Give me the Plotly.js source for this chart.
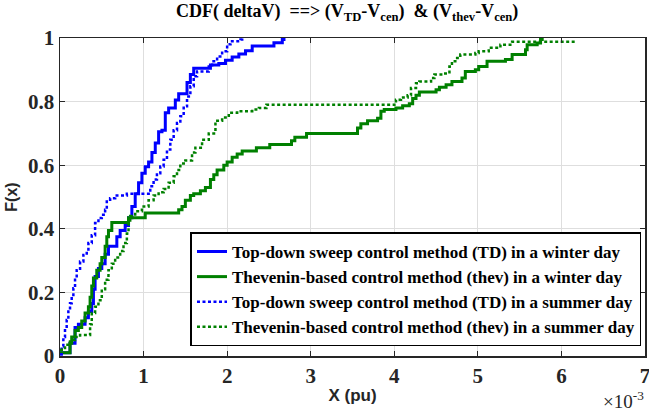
<!DOCTYPE html>
<html>
<head>
<meta charset="utf-8">
<script src="https://cdn.plot.ly/plotly-3.0.1.min.js"></script>
<style>html,body{margin:0;padding:0;background:#fff}#chart{width:649px;height:416px}</style>
</head>
<body>
<div id="chart"></div>
<script>
// X values in units of 1e-3 pu (axis shows x10^-3)
const xTDwinter = [0, 0.12, 0.18, 0.22, 0.30, 0.34, 0.38, 0.40, 0.42, 0.46, 0.50, 0.54, 0.58, 0.68, 0.72, 0.78, 0.82, 0.86, 0.90, 0.94, 0.98, 1.02, 1.06, 1.10, 1.14, 1.18, 1.22, 1.26, 1.30, 1.38, 1.42, 1.52, 1.56, 1.60, 1.80, 1.90, 1.98, 2.06, 2.14, 2.22, 2.30, 2.56, 2.66, 2.68];
const yTDwinter = [0.01, 0.04, 0.09, 0.10, 0.12, 0.14, 0.165, 0.21, 0.25, 0.275, 0.29, 0.32, 0.345, 0.375, 0.395, 0.41, 0.435, 0.47, 0.51, 0.545, 0.575, 0.595, 0.61, 0.64, 0.67, 0.705, 0.71, 0.765, 0.78, 0.805, 0.825, 0.86, 0.885, 0.905, 0.915, 0.92, 0.93, 0.94, 0.95, 0.96, 0.975, 0.985, 0.995, 1.0];

const xThevWinter = [0, 0.12, 0.14, 0.18, 0.22, 0.26, 0.30, 0.34, 0.36, 0.38, 0.40, 0.44, 0.48, 0.50, 0.54, 0.56, 0.58, 0.62, 0.82, 1.02, 1.42, 1.46, 1.50, 1.56, 1.60, 1.68, 1.74, 1.80, 1.84, 1.88, 1.96, 2.00, 2.06, 2.12, 2.18, 2.35, 2.51, 2.77, 2.81, 2.95, 3.56, 3.60, 3.68, 3.80, 3.84, 3.88, 4.02, 4.10, 4.18, 4.22, 4.26, 4.30, 4.50, 4.54, 4.62, 4.69, 4.81, 4.85, 4.97, 5.01, 5.11, 5.33, 5.41, 5.57, 5.59, 5.71, 5.75, 5.77];
const yThevWinter = [0.01, 0.04, 0.06, 0.08, 0.09, 0.11, 0.135, 0.155, 0.185, 0.22, 0.245, 0.27, 0.29, 0.31, 0.345, 0.375, 0.395, 0.42, 0.435, 0.45, 0.46, 0.47, 0.49, 0.505, 0.51, 0.52, 0.53, 0.555, 0.57, 0.585, 0.60, 0.61, 0.625, 0.635, 0.645, 0.655, 0.665, 0.677, 0.688, 0.70, 0.717, 0.73, 0.74, 0.748, 0.77, 0.775, 0.78, 0.787, 0.793, 0.81, 0.82, 0.83, 0.837, 0.845, 0.853, 0.863, 0.874, 0.895, 0.90, 0.91, 0.927, 0.932, 0.948, 0.963, 0.979, 0.984, 0.995, 1.0];

const xTDsummer = [0, 0.02, 0.04, 0.06, 0.08, 0.10, 0.12, 0.14, 0.16, 0.18, 0.20, 0.24, 0.28, 0.32, 0.34, 0.38, 0.42, 0.46, 0.50, 0.54, 0.56, 0.60, 0.66, 0.80, 1.08, 1.12, 1.16, 1.20, 1.24, 1.28, 1.32, 1.36, 1.40, 1.44, 1.48, 1.52, 1.56, 1.60, 1.64, 1.78, 1.82, 1.88, 1.94, 2.00, 2.04, 2.16, 2.18];
const yTDsummer = [0.005, 0.03, 0.06, 0.087, 0.113, 0.14, 0.166, 0.187, 0.213, 0.24, 0.27, 0.297, 0.318, 0.33, 0.355, 0.38, 0.418, 0.434, 0.444, 0.46, 0.486, 0.496, 0.505, 0.51, 0.534, 0.555, 0.575, 0.596, 0.617, 0.649, 0.68, 0.71, 0.733, 0.754, 0.785, 0.816, 0.848, 0.88, 0.895, 0.91, 0.927, 0.942, 0.958, 0.98, 0.99, 0.995, 1.0];

const xThevSummer = [0, 0.06, 0.12, 0.18, 0.24, 0.36, 0.38, 0.42, 0.46, 0.50, 0.54, 0.58, 0.62, 0.66, 0.72, 0.76, 0.80, 0.82, 0.84, 0.90, 0.98, 1.06, 1.12, 1.18, 1.24, 1.30, 1.36, 1.40, 1.44, 1.50, 1.58, 1.62, 1.70, 1.78, 1.86, 1.94, 2.02, 2.12, 2.30, 2.38, 2.47, 4.02, 4.08, 4.16, 4.20, 4.26, 4.30, 4.44, 4.48, 4.58, 4.66, 4.69, 4.73, 4.79, 4.97, 5.01, 5.13, 5.27, 5.41, 6.16];
const yThevSummer = [0.02, 0.035, 0.05, 0.06, 0.066, 0.10, 0.135, 0.155, 0.175, 0.21, 0.24, 0.27, 0.29, 0.31, 0.33, 0.355, 0.385, 0.415, 0.44, 0.455, 0.47, 0.49, 0.505, 0.515, 0.525, 0.545, 0.565, 0.585, 0.605, 0.615, 0.64, 0.655, 0.68, 0.70, 0.74, 0.75, 0.765, 0.77, 0.775, 0.78, 0.79, 0.806, 0.813, 0.82, 0.843, 0.858, 0.863, 0.874, 0.885, 0.888, 0.91, 0.927, 0.937, 0.948, 0.953, 0.958, 0.969, 0.979, 0.988, 0.99];

const seriesNames = [
  'Top-down sweep control method (TD) in a winter day',
  'Thevenin-based control method (thev) in a winter day',
  'Top-down sweep control method (TD) in a summer day',
  'Thevenin-based control method (thev) in a summer day'
];
const xTicks = [0, 1, 2, 3, 4, 5, 6, 7];
const yTicks = [0, 0.2, 0.4, 0.6, 0.8, 1];

const BLUE = '#0000ff', GREEN = '#008000';
const serif = 'Liberation Serif';
const sans = 'Liberation Sans';
const DOT = '3px,2.5px';

const traces = [
  {x: xTDwinter, y: yTDwinter, name: seriesNames[0], line: {color: BLUE, width: 3, shape: 'hv'}},
  {x: xThevWinter, y: yThevWinter, name: seriesNames[1], line: {color: GREEN, width: 3, shape: 'hv'}},
  {x: xTDsummer, y: yTDsummer, name: seriesNames[2], line: {color: BLUE, width: 2.5, dash: DOT, shape: 'hv'}},
  {x: xThevSummer, y: yThevSummer, name: seriesNames[3], line: {color: GREEN, width: 2.5, dash: DOT, shape: 'hv'}}
].map(t => Object.assign({type: 'scatter', mode: 'lines'}, t));

const axisCommon = {
  showline: true, linecolor: '#262626', linewidth: 1.5, mirror: 'allticks',
  ticks: 'inside', ticklen: 5, tickwidth: 1.2, tickcolor: '#262626',
  showgrid: true, gridcolor: '#dedede', gridwidth: 1, zeroline: false,
  ticklabeloverflow: 'allow',
  tickfont: {family: serif, size: 21, color: '#262626', weight: 'bold'}
};

const layout = {
  width: 649, height: 416,
  margin: {l: 60, r: 4, t: 38, b: 60},
  paper_bgcolor: '#fff', plot_bgcolor: '#fff',
  showlegend: true,
  title: {
    text: 'CDF( deltaV)  ==> (V<sub>TD</sub>-V<sub>cen</sub>)  & (V<sub>thev</sub>-V<sub>cen</sub>)',
    font: {family: serif, size: 18, color: '#000', weight: 'bold'},
    x: 0.535, xanchor: 'center', y: 0.99, yanchor: 'top'
  },
  xaxis: Object.assign({}, axisCommon, {
    range: [0, 7], tickvals: xTicks, ticktext: xTicks.map(String),
    title: {text: 'X (pu)', font: {family: sans, size: 17, color: '#262626', weight: 'bold'}, standoff: 2}
  }),
  yaxis: Object.assign({}, axisCommon, {
    range: [0, 1], tickvals: yTicks, ticktext: yTicks.map(String),
    title: {text: 'F(x)', font: {family: sans, size: 16, color: '#262626', weight: 'bold'}, standoff: 6}
  }),
  legend: {
    x: 0.994, xanchor: 'right', y: 0.03, yanchor: 'bottom',
    bgcolor: '#fff', bordercolor: '#000', borderwidth: 1.5,
    font: {family: serif, size: 17, color: '#000', weight: 'bold'},
    itemwidth: 30, tracegroupgap: 0, traceorder: 'normal'
  },
  annotations: [{
    xref: 'paper', yref: 'paper', x: 1.0, y: -0.178, xanchor: 'right', yanchor: 'bottom',
    text: '×10<sup>-3</sup>', showarrow: false, borderpad: 0,
    font: {family: serif, size: 19, color: '#262626'}
  }]
};

Plotly.newPlot('chart', traces, layout, {displayModeBar: false, staticPlot: true});
</script>
</body>
</html>
